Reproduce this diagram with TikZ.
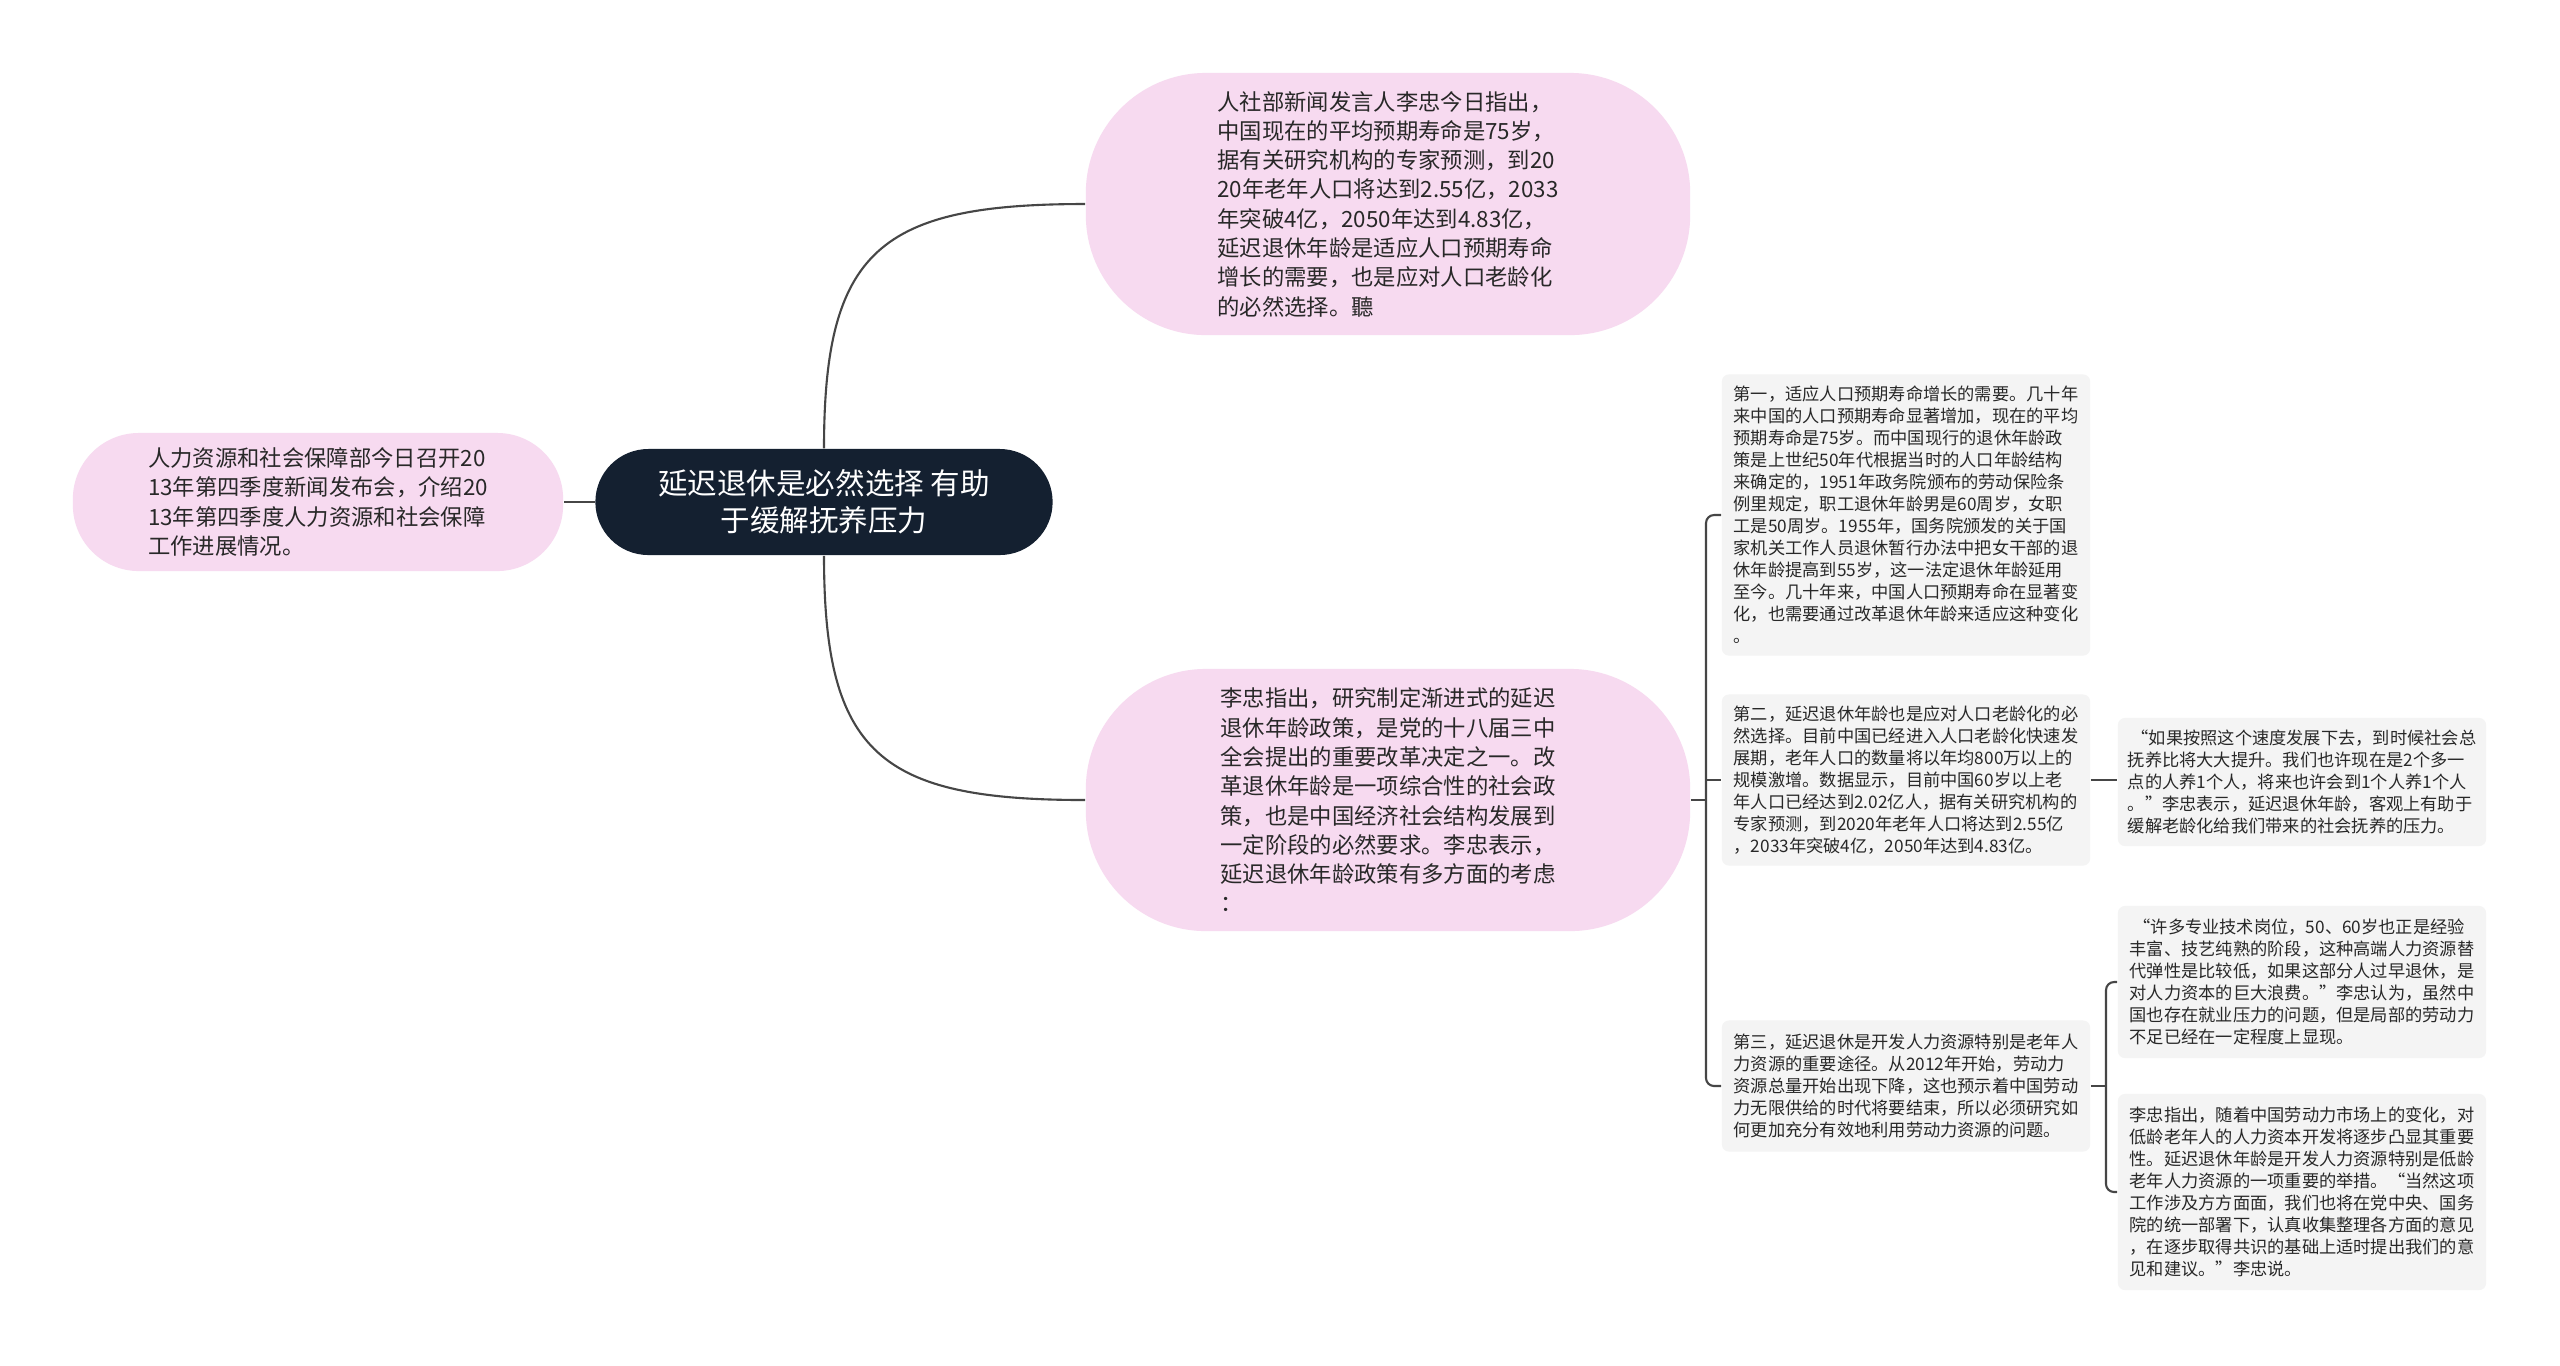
\documentclass[tikz,border=0pt]{standalone}
\usepackage{fontspec}
\setmainfont{Noto Sans CJK SC}
\definecolor{pinkfill}{RGB}{247,218,240}
\definecolor{rootfill}{RGB}{20,32,48}
\definecolor{boxfill}{RGB}{244,244,244}
\definecolor{linkgray}{RGB}{70,70,70}
\definecolor{txt}{RGB}{40,40,40}

\begin{document}
\begin{tikzpicture}[x=0.01cm,y=-0.01cm,
  pinknode/.style={fill=pinkfill,text=txt,align=left,inner sep=0pt,font={\fontsize{6.35pt}{8.33pt}\selectfont}},
  rootnode/.style={fill=rootfill,text=white,align=center,inner sep=0pt,rounded corners=0.53cm,font={\fontsize{8.4pt}{10.4pt}\selectfont}},
  textbox/.style={fill=boxfill,text=txt,align=left,inner sep=0pt,rounded corners=0.07cm,minimum width=3.68cm,font={\fontsize{4.9pt}{6.25pt}\selectfont}},
  link/.style={draw=linkgray,line width=0.6pt}]
  \fill[white] (0,0) rectangle (2560,1365);
  \useasboundingbox (0,0) rectangle (2560,1365);
  % centro y ramas principales
  \node[rootnode,minimum width=4.57cm,minimum height=1.06cm] (root) at (824,502)
    {延迟退休是必然选择 有助\\于缓解抚养压力};
  \node[pinknode,rounded corners=0.66cm,minimum width=4.90cm,minimum height=1.38cm] (intro) at (318,502)
    {人力资源和社会保障部今日召开20\\13年第四季度新闻发布会，介绍20\\13年第四季度人力资源和社会保障\\工作进展情况。};
  \node[pinknode,rounded corners=1.2cm,minimum width=6.04cm,minimum height=2.62cm] (life) at (1388,204)
    {人社部新闻发言人李忠今日指出，\\中国现在的平均预期寿命是75岁，\\据有关研究机构的专家预测，到20\\20年老年人口将达到2.55亿，2033\\年突破4亿，2050年达到4.83亿，\\延迟退休年龄是适应人口预期寿命\\增长的需要，也是应对人口老龄化\\的必然选择。聽};
  \node[pinknode,rounded corners=1.2cm,minimum width=6.04cm,minimum height=2.62cm] (policy) at (1388,800)
    {李忠指出，研究制定渐进式的延迟\\退休年龄政策，是党的十八届三中\\全会提出的重要改革决定之一。改\\革退休年龄是一项综合性的社会政\\策，也是中国经济社会结构发展到\\一定阶段的必然要求。李忠表示，\\延迟退休年龄政策有多方面的考虑\\：};
  % 三方面的考虑
  \node[textbox,minimum height=2.81cm] (first) at (1906,515)
    {第一，适应人口预期寿命增长的需要。几十年\\来中国的人口预期寿命显著增加，现在的平均\\预期寿命是75岁。而中国现行的退休年龄政\\策是上世纪50年代根据当时的人口年龄结构\\来确定的，1951年政务院颁布的劳动保险条\\例里规定，职工退休年龄男是60周岁，女职\\工是50周岁。1955年，国务院颁发的关于国\\家机关工作人员退休暂行办法中把女干部的退\\休年龄提高到55岁，这一法定退休年龄延用\\至今。几十年来，中国人口预期寿命在显著变\\化，也需要通过改革退休年龄来适应这种变化\\。};
  \node[textbox,minimum height=1.71cm] (second) at (1906,780)
    {第二，延迟退休年龄也是应对人口老龄化的必\\然选择。目前中国已经进入人口老龄化快速发\\展期，老年人口的数量将以年均800万以上的\\规模激增。数据显示，目前中国60岁以上老\\年人口已经达到2.02亿人，据有关研究机构的\\专家预测，到2020年老年人口将达到2.55亿\\，2033年突破4亿，2050年达到4.83亿。};
  \node[textbox,minimum height=1.31cm] (third) at (1906,1086)
    {第三，延迟退休是开发人力资源特别是老年人\\力资源的重要途径。从2012年开始，劳动力\\资源总量开始出现下降，这也预示着中国劳动\\力无限供给的时代将要结束，所以必须研究如\\何更加充分有效地利用劳动力资源的问题。};
  % 引语
  \node[textbox,minimum height=1.28cm] (quoteA) at (2302,782)
    {\ “如果按照这个速度发展下去，到时候社会总\\抚养比将大大提升。我们也许现在是2个多一\\点的人养1个人，将来也许会到1个人养1个人\\。”李忠表示，延迟退休年龄，客观上有助于\\缓解老龄化给我们带来的社会抚养的压力。};
  \node[textbox,minimum height=1.52cm] (quoteB) at (2302,982)
    {\ “许多专业技术岗位，50、60岁也正是经验\\丰富、技艺纯熟的阶段，这种高端人力资源替\\代弹性是比较低，如果这部分人过早退休，是\\对人力资本的巨大浪费。”李忠认为，虽然中\\国也存在就业压力的问题，但是局部的劳动力\\不足已经在一定程度上显现。};
  \node[textbox,minimum height=1.96cm] (quoteC) at (2302,1192)
    {李忠指出，随着中国劳动力市场上的变化，对\\低龄老年人的人力资本开发将逐步凸显其重要\\性。延迟退休年龄是开发人力资源特别是低龄\\老年人力资源的一项重要的举措。“当然这项\\工作涉及方方面面，我们也将在党中央、国务\\院的统一部署下，认真收集整理各方面的意见\\，在逐步取得共识的基础上适时提出我们的意\\见和建议。”李忠说。};
  % 连线
  \coordinate (fork1) at (1706,800);
  \coordinate (fork2) at (2106,1086);
  \draw[link] (root.west) -- (intro.east);
  \draw[link] (root.north) .. controls (824,250) and (880,204) .. (life.west);
  \draw[link] (root.south) .. controls (824,754) and (880,800) .. (policy.west);
  \draw[link] (policy.east) -- (fork1);
  \draw[link,rounded corners=0.08cm] (first.west) -| (fork1) |- (third.west);
  \draw[link] (fork1 |- second.west) -- (second.west);
  \draw[link] (second.east) -- (second.east -| quoteA.west);
  \draw[link] (third.east) -- (fork2);
  \draw[link,rounded corners=0.08cm] (quoteB.west) -| (fork2) |- (quoteC.west);
\end{tikzpicture}
\end{document}
